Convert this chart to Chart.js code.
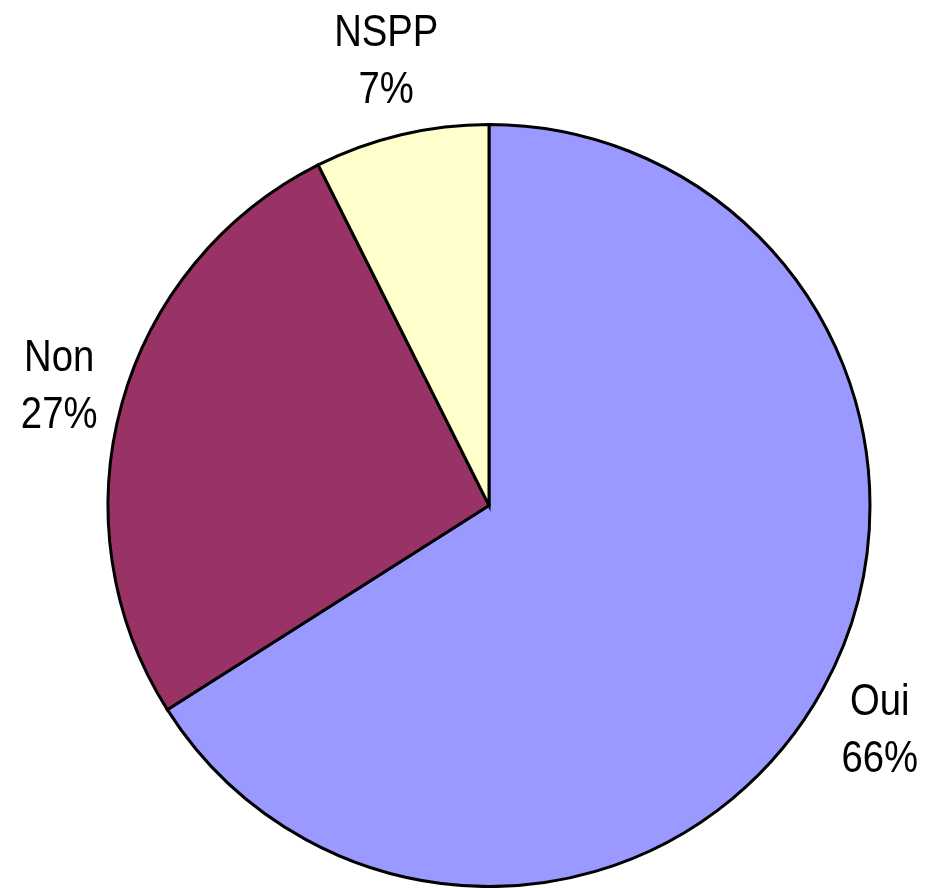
<!DOCTYPE html>
<html lang="fr">
<head>
    <meta charset="UTF-8">
    <title>Répartition des réponses</title>
    <script src="https://cdn.jsdelivr.net/npm/chart.js"></script>
    <style>
        body {
            margin: 0;
            background-color: #fff;
        }
        #graphique {
            display: block;
        }
    </style>
</head>
<body>
    <canvas id="graphique" width="927" height="888"></canvas>

    <script>
        const categories = ['Oui', 'Non', 'NSPP'];
        const valeurs = [66, 26.6, 7.4];
        const couleurs = ['#9999FF', '#993366', '#FFFFCC'];

        // etiquettes "Nom / xx%" placees a l'exterieur de chaque part
        const etiquettesExterieures = {
            id: 'etiquettesExterieures',
            afterDatasetsDraw(chart) {
                const ctx = chart.ctx;
                const meta = chart.getDatasetMeta(0);
                const total = valeurs.reduce((a, b) => a + b, 0);
                const serrage = 0.87; // texte un peu resserre comme dans l'original
                ctx.save();
                ctx.font = '44px "Liberation Sans", Arial, sans-serif';
                ctx.fillStyle = '#000';
                ctx.textAlign = 'center';
                ctx.textBaseline = 'alphabetic';
                meta.data.forEach((arc, i) => {
                    const p = arc.getProps(['x', 'y', 'startAngle', 'endAngle', 'outerRadius'], true);
                    const milieu = (p.startAngle + p.endAngle) / 2;
                    const cx = p.x + Math.cos(milieu) * (p.outerRadius + 65);
                    const cy = p.y + Math.sin(milieu) * (p.outerRadius + 79);
                    const pct = Math.round(valeurs[i] / total * 100) + '%';
                    ctx.save();
                    ctx.translate(cx, cy);
                    ctx.scale(serrage, 1);
                    ctx.fillText(categories[i], 0, -12);
                    ctx.fillText(pct, 0, 45);
                    ctx.restore();
                });
                ctx.restore();
            }
        };

        new Chart(document.getElementById('graphique'), {
            type: 'pie',
            data: {
                labels: categories,
                datasets: [{
                    data: valeurs,
                    backgroundColor: couleurs,
                    borderColor: '#000',
                    borderWidth: 3,
                    borderJoinStyle: 'miter'
                }]
            },
            options: {
                responsive: false,
                animation: false,
                layout: {
                    padding: { left: 105, right: 54, top: 123, bottom: -3 }
                },
                plugins: {
                    legend: { display: false },
                    tooltip: { enabled: false }
                }
            },
            plugins: [etiquettesExterieures]
        });
    </script>
</body>
</html>
